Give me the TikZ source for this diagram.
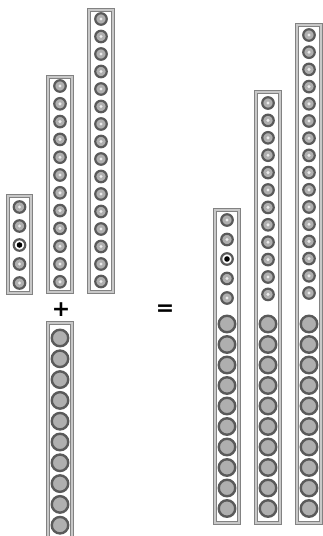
\documentclass[tikz,border=0pt]{standalone}
\usepackage{xcolor}
\usepackage{fontspec}
\newfontfamily\signfont{DejaVu Sans}
\definecolor{beadring}{RGB}{90,90,90}
\definecolor{beadfill}{RGB}{175,175,175}
\definecolor{strandline}{RGB}{130,130,130}
\definecolor{strandband}{RGB}{200,200,200}
\usetikzlibrary{positioning}

\begin{document}
\begin{tikzpicture}[x=1pt,y=-1pt,
  strand/.style={draw=strandline,double=strandband,double distance=1.6pt,line width=0.9pt,fill=white},
  smallbead/.style={circle,draw=beadring,line width=2.2pt,fill=beadfill,minimum size=11.5pt,inner sep=0pt,
    path picture={\fill[white!85!gray] (path picture bounding box.center) circle (1.7pt);}},
  markbead/.style={circle,draw=beadring,line width=2.2pt,fill=white,minimum size=11.5pt,inner sep=0pt,
    path picture={\fill[black] (path picture bounding box.center) circle (2.8pt);}},
  bigbead/.style={circle,draw=beadring,line width=2.4pt,fill=beadfill,minimum size=16.5pt,inner sep=0pt},
  sign/.style={font=\fontsize{22}{22}\selectfont\signfont\bfseries,inner sep=0pt}]
  \useasboundingbox (0,0) rectangle (322,536);
  % Left: short strand
  \draw[strand] (8,196) rectangle (31,293);
  \foreach \i in {0,...,4} {
    \ifnum\i=2
      \node[markbead] (a-\i) at (19.5,207+19*\i) {};
    \else
      \node[smallbead] (a-\i) at (19.5,207+19*\i) {};
    \fi
  }
  % Left: middle strand
  \draw[strand] (48,77) rectangle (72,292);
  \foreach \i in {0,...,11}
    \node[smallbead] (b-\i) at (60,86+17.8*\i) {};
  % Left: long strand
  \draw[strand] (89,10) rectangle (113,292);
  \foreach \i in {0,...,15}
    \node[smallbead] (c-\i) at (101,19+17.5*\i) {};
  % Plus and added block
  \node[sign] (plus) at (61,310) {+};
  \draw[strand] (48,323) rectangle (72,545);
  \foreach \i in {0,...,9}
    \node[bigbead] (d-\i) at (60,338+20.8*\i) {};
  % Equals
  \node[sign] (equals) at (165,310) {=};
  % Right: results
  \draw[strand] (215,210) rectangle (239,523);
  \foreach \i in {0,...,4} {
    \ifnum\i=2
      \node[markbead] (e-\i) at (227,220+19.5*\i) {};
    \else
      \node[smallbead] (e-\i) at (227,220+19.5*\i) {};
    \fi
  }
  \draw[strand] (256,92) rectangle (280,523);
  \foreach \i in {0,...,11}
    \node[smallbead] (f-\i) at (268,103+17.4*\i) {};
  \draw[strand] (297,25) rectangle (321,523);
  \foreach \i in {0,...,15}
    \node[smallbead] (g-\i) at (309,35+17.2*\i) {};
  \foreach \c/\x in {e/227,f/268,g/309}
    \foreach \i in {0,...,9}
      \node[bigbead] (\c b-\i) at (\x,324+20.5*\i) {};
\end{tikzpicture}
\end{document}
